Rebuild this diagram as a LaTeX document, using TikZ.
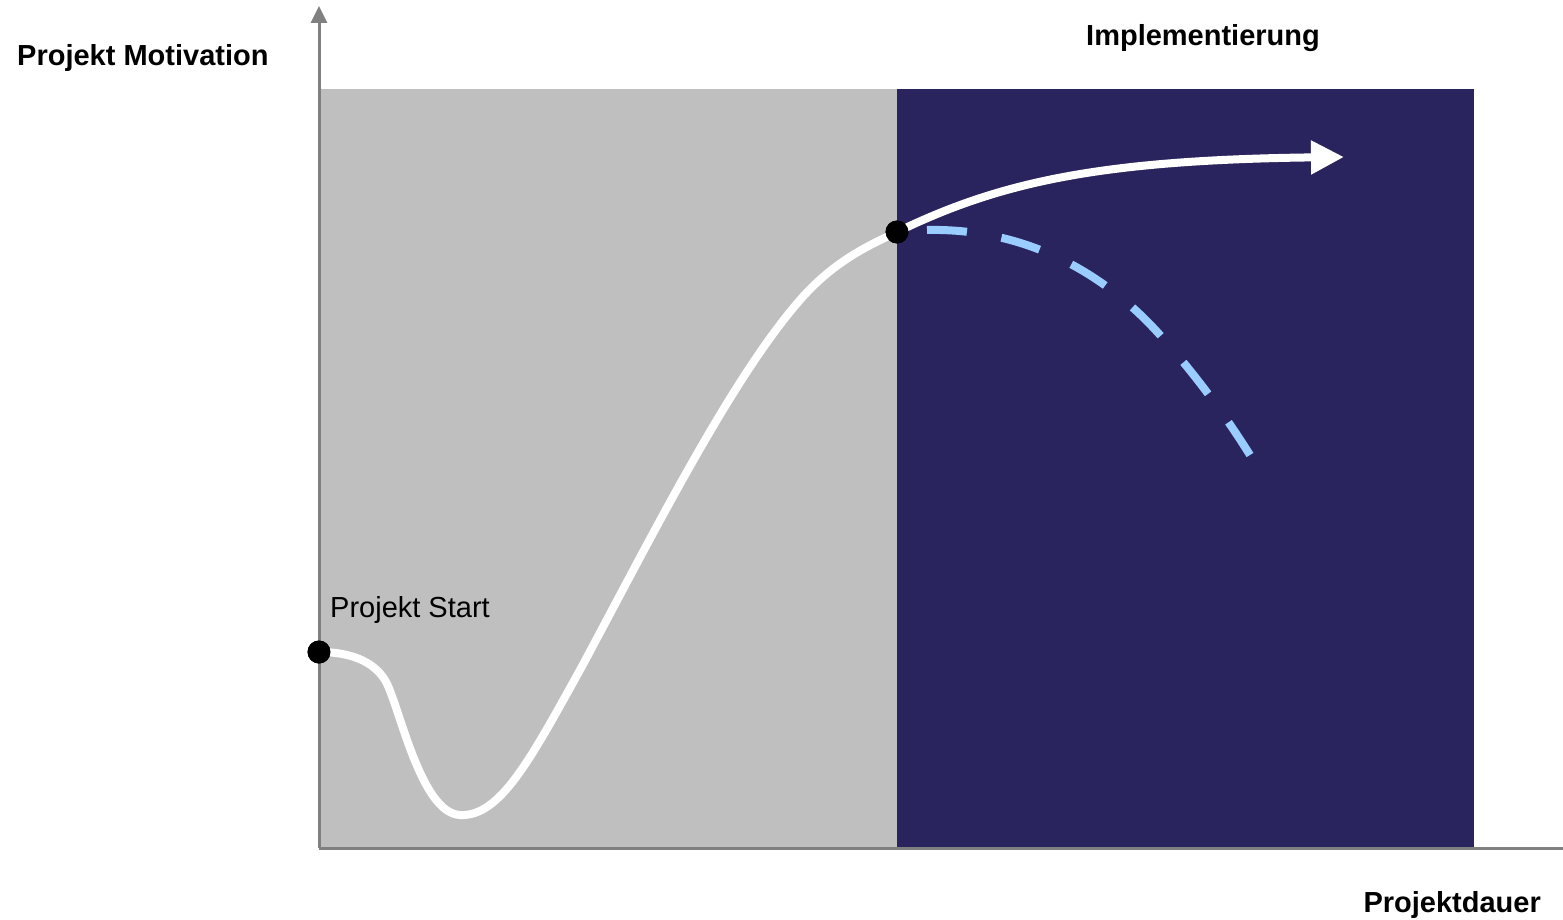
\documentclass[tikz,border=0pt]{standalone}
\usepackage{fontspec}
\setmainfont{Liberation Sans}
\usetikzlibrary{arrows.meta}
\definecolor{axisgray}{RGB}{128,128,128}
\definecolor{panelgray}{RGB}{191,191,191}
\definecolor{navy}{RGB}{41,36,94}
\definecolor{lightblue}{RGB}{153,204,255}
\tikzset{
  axis/.style={draw=axisgray, line width=3pt},
  lbl/.style={font=\fontsize{29}{33}\selectfont\bfseries, inner sep=0pt},
  dot/.style={circle, fill=black, minimum size=23pt, inner sep=0pt},
  motcurve/.style={draw=white, line width=8pt},
  altcurve/.style={draw=lightblue, line width=8pt, dash pattern=on 40pt off 35pt},
}
\begin{document}
\begin{tikzpicture}[x=1pt,y=-1pt]
\useasboundingbox (0,0) rectangle (1563,920);
% panels
\fill[panelgray] (320,89) rectangle (897,848);
\fill[navy] (897,89) rectangle (1474,848);
% axes
\coordinate (origin) at (319,848);
\coordinate (ytip) at (319,6);
\coordinate (xend) at (1563,848);
\draw[axis, -{Triangle[length=17pt,width=16pt]}] (origin) -- (ytip);
\draw[axis] (origin) -- (xend);
% labels
\node[lbl, anchor=west] (ylab) at (17,58) {Projekt Motivation};
\node[lbl] (impl) at (1203,38) {Implementierung};
\node[lbl, anchor=east] (xlab) at (1541,905) {Projektdauer};
\node[font=\fontsize{29}{33}\selectfont, inner sep=0pt, anchor=west] (start) at (330,610) {Projekt Start};
% points
\node[dot] (p0) at (319,652) {};
\node[dot] (p1) at (897,232) {};
\coordinate (endarrow) at (1344,157);
\coordinate (dashend) at (1250,455);
% dashed alternative
\draw[altcurve] (927,230) .. controls (1020,228) and (1100,268) .. (1160,335)
  .. controls (1200,380) and (1228,420) .. (dashend);
% motivation curve
\draw[motcurve] (p0.center) .. controls (350,652) and (373,661) .. (385,680)
  .. controls (399,703) and (420,813) .. (460,815)
  .. controls (500,817) and (530,760) .. (580,670)
  .. controls (650,540) and (730,380) .. (800,300)
  .. controls (835,260) and (870,245) .. (p1.center);
\draw[motcurve, -{Triangle[length=33pt,width=32pt]}] (p1.center) .. controls (1000,182) and (1100,160) .. (endarrow);
% redraw dots on top
\node[dot] at (p0) {};
\node[dot] at (p1) {};
\end{tikzpicture}
\end{document}
